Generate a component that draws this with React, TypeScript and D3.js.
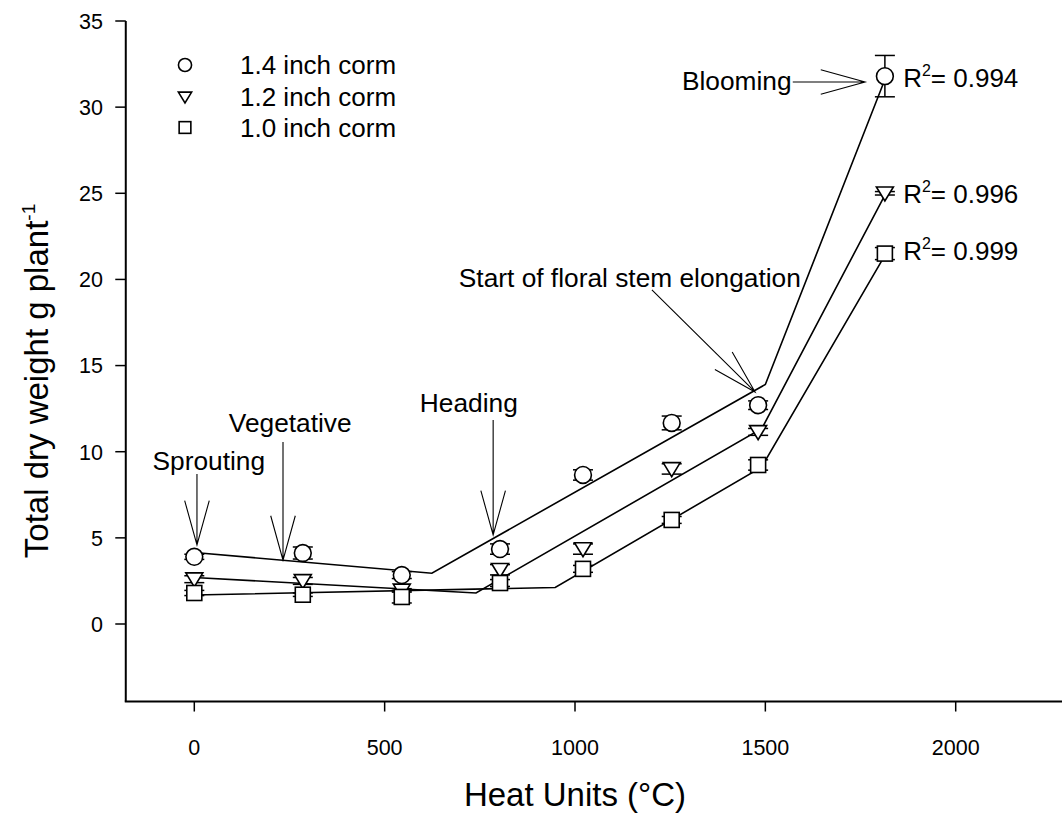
import React from "react";
import * as d3 from "d3";

// ---------- data ----------
const heatUnits = [0, 285, 545, 803, 1021, 1254, 1481, 1814];
const corm14 = [3.9, 4.12, 2.84, 4.35, 8.65, 11.67, 12.7, 31.8];
const corm14Err = [0.15, 0.35, 0.2, 0.3, 0.3, 0.4, 0.25, 1.2];
const corm12 = [2.6, 2.5, 1.95, 3.15, 4.35, 9.0, 11.15, 25.0];
const corm12Err = [0.2, 0.2, 0.1, 0.3, 0.3, 0.3, 0.2, 0.1];
const corm10 = [1.8, 1.7, 1.57, 2.38, 3.2, 6.04, 9.23, 21.5];
const corm10Err = [0.15, 0.1, 0.35, 0.2, 0.2, 0.2, 0.3, 0.35];

const fit14X = [0, 624, 1500, 1814];
const fit14Y = [4.15, 2.95, 13.9, 31.6];
const fit12X = [0, 740, 1491, 1814];
const fit12Y = [2.7, 1.8, 11.35, 24.9];
const fit10X = [0, 948, 1490, 1814];
const fit10Y = [1.68, 2.12, 9.1, 21.4];

const seriesNames = ["1.4 inch corm", "1.2 inch corm", "1.0 inch corm"];
const r2Labels = ["0.994", "0.996", "0.999"];
const r2X = [1862, 1862, 1862];
const r2Y = [31.17, 24.45, 21.1];

const xTicks = [0, 500, 1000, 1500, 2000];
const yTicks = [0, 5, 10, 15, 20, 25, 30, 35];

const stageNames = ["Sprouting", "Vegetative", "Heading", "Start of floral stem elongation", "Blooming"];
const stageTipX = [7, 233, 785, 1473, 1762];
const stageTipY = [4.59, 3.71, 5.17, 13.47, 31.46];
const stageTailX = [7, 233, 785, 1202, 1572];
const stageTailY = [8.71, 10.56, 11.84, 19.39, 31.46];
const stageTextX = [38, 252, 721, 1144, 1569];
const stageTextY = [8.94, 11.14, 12.3, 19.56, 31.0];
const stageAnchor = ["middle", "middle", "middle", "middle", "end"];

const FONT = "Arial, 'Liberation Sans', sans-serif";

const x = d3.scaleLinear().domain([0, 2000]).range([194.3, 955.7]);
const y = d3.scaleLinear().domain([0, 35]).range([624, 21]);

function Marker({ kind, cx, cy, s = 1 }: { kind: number; cx: number; cy: number; s?: number }) {
  if (kind === 0) return <circle cx={cx} cy={cy} r={8.4 * s} fill="white" stroke="black" strokeWidth={1.6} />;
  if (kind === 1) {
    const w = 8.5 * s, h = 14 * s;
    const p = d3.path();
    p.moveTo(cx - w, cy - h * 0.45);
    p.lineTo(cx + w, cy - h * 0.45);
    p.lineTo(cx, cy + h * 0.55);
    p.closePath();
    return <path d={p.toString()} fill="white" stroke="black" strokeWidth={1.6} />;
  }
  const a = 7.5 * s;
  return <rect x={cx - a} y={cy - a} width={2 * a} height={2 * a} fill="white" stroke="black" strokeWidth={1.6} />;
}

function Arrow({ x1, y1, x2, y2 }: { x1: number; y1: number; x2: number; y2: number }) {
  const ang = Math.atan2(y2 - y1, x2 - x1);
  const L = 46, ha = (15.5 * Math.PI) / 180;
  const p = d3.path();
  p.moveTo(x1, y1);
  p.lineTo(x2, y2);
  p.moveTo(x2 - L * Math.cos(ang - ha), y2 - L * Math.sin(ang - ha));
  p.lineTo(x2, y2);
  p.lineTo(x2 - L * Math.cos(ang + ha), y2 - L * Math.sin(ang + ha));
  return <path d={p.toString()} fill="none" stroke="black" strokeWidth={1.1} />;
}

export default function App() {
  const line = d3.line<[number, number]>().x((d) => x(d[0])).y((d) => y(d[1]));
  const fits = [
    [fit14X, fit14Y],
    [fit12X, fit12Y],
    [fit10X, fit10Y],
  ];
  const series = [
    [corm14, corm14Err],
    [corm12, corm12Err],
    [corm10, corm10Err],
  ];
  const x0 = x(-180), x1 = x(2290);
  const yb = y(-4.5), yt = y(35);
  const legendY = [65, 97, 127.5];

  return (
    <svg width={1062} height={817} style={{ position: "absolute", left: 0, top: 0, background: "white" }} fontFamily={FONT}>
      <rect width={1062} height={817} fill="white" />
      {/* axes */}
      <line x1={x0} x2={x0} y1={yt} y2={yb} stroke="black" strokeWidth={2} />
      <line x1={x0 - 1} x2={x1} y1={yb} y2={yb} stroke="black" strokeWidth={2} />
      {yTicks.map((t) => (
        <g key={"yt" + t}>
          <line x1={x0 - 10.5} x2={x0} y1={y(t)} y2={y(t)} stroke="black" strokeWidth={1.5} />
          <text x={103} y={y(t) + 7.8} textAnchor="end" fontSize={21.5}>{t}</text>
        </g>
      ))}
      {xTicks.map((t) => (
        <g key={"xt" + t}>
          <line x1={x(t)} x2={x(t)} y1={yb} y2={yb + 10} stroke="black" strokeWidth={1.5} />
          <text x={x(t)} y={755} textAnchor="middle" fontSize={21.5}>{t}</text>
        </g>
      ))}
      <text x={x(1000)} y={806} textAnchor="middle" fontSize={33}>Heat Units (°C)</text>
      <text transform={`translate(48,${381}) rotate(-90)`} textAnchor="middle" fontSize={33}>
        Total dry weight g plant<tspan dy={-13} fontSize={19}>-1</tspan>
      </text>

      {/* fit lines */}
      {fits.map((f, i) => (
        <path key={"fit" + i} d={line(f[0].map((v, j) => [v, f[1][j]]) as [number, number][]) || ""} fill="none" stroke="black" strokeWidth={1.6} />
      ))}

      {/* error bars */}
      {series.map((s, i) =>
        heatUnits.map((h, j) => {
          const cx = x(h), v = s[0][j], e = s[1][j];
          return (
            <g key={`e${i}-${j}`} stroke="black" strokeWidth={1.5}>
              <line x1={cx} x2={cx} y1={y(v + e)} y2={y(v - e)} />
              <line x1={cx - 10} x2={cx + 10} y1={y(v + e)} y2={y(v + e)} />
              <line x1={cx - 10} x2={cx + 10} y1={y(v - e)} y2={y(v - e)} />
            </g>
          );
        })
      )}
      {/* markers */}
      {series.map((s, i) =>
        heatUnits.map((h, j) => <Marker key={`m${i}-${j}`} kind={i} cx={x(h)} cy={y(s[0][j])} />)
      )}

      {/* R2 labels */}
      {r2Labels.map((r, i) => (
        <text key={"r2" + i} x={x(r2X[i])} y={y(r2Y[i])} fontSize={26}>
          R<tspan dy={-11} fontSize={16}>2</tspan>
          <tspan dy={11}>= {r}</tspan>
        </text>
      ))}

      {/* stage annotations */}
      {stageNames.map((n, i) => (
        <g key={"st" + i}>
          <Arrow x1={x(stageTailX[i])} y1={y(stageTailY[i])} x2={x(stageTipX[i])} y2={y(stageTipY[i])} />
          <text x={x(stageTextX[i])} y={y(stageTextY[i])} textAnchor={stageAnchor[i] as any} fontSize={26.3}>{n}</text>
        </g>
      ))}

      {/* legend */}
      {seriesNames.map((n, i) => (
        <g key={"lg" + i}>
          <Marker kind={i} cx={185} cy={legendY[i]} s={0.78} />
          <text x={240} y={legendY[i] + 9.3} fontSize={26}>{n}</text>
        </g>
      ))}
    </svg>
  );
}
